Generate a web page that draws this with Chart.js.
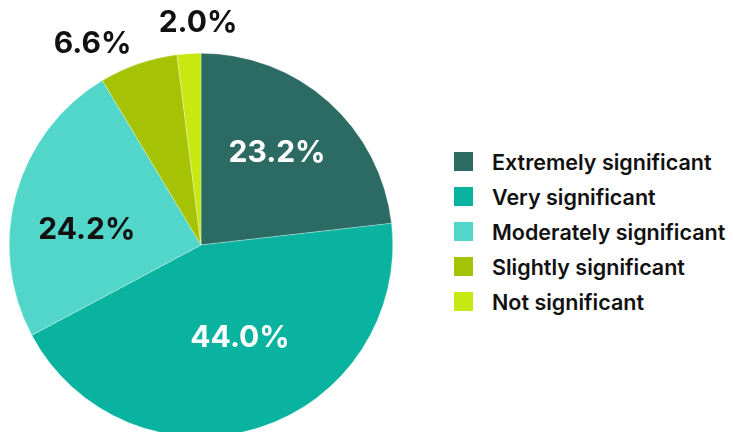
<!DOCTYPE html>
<html>
<head>
<meta charset="utf-8">
<script src="https://cdn.jsdelivr.net/npm/chart.js@4.4.1/dist/chart.umd.min.js"></script>
<style>
  html, body { margin: 0; padding: 0; background: #fff; width: 733px; height: 432px; overflow: hidden; }
  #wrap { position: absolute; left: 0; top: 0; width: 402px; height: 490px; }
  #legend { position: absolute; left: 454px; top: 152px; font-family: Inter, "Noto Sans", sans-serif; font-weight: 600; font-size: 21.5px; color: #111; }
  .item { display: flex; align-items: center; height: 19px; white-space: nowrap; }
  .sw { width: 19px; height: 19px; margin-right: 19px; flex: none; }
</style>
</head>
<body>
<div id="wrap"><canvas id="c"></canvas></div>
<div id="legend"></div>
<script>
const categories = ["Extremely significant", "Very significant", "Moderately significant", "Slightly significant", "Not significant"];
const values = [23.2, 44.0, 24.2, 6.6, 2.0];
const colors = ["#2b6b63", "#09b39f", "#53d6ca", "#a6c205", "#c8e812"];
const labelColors = ["#ffffff", "#ffffff", "#111111", "#111111", "#111111"];
// label placement: inside (fraction of radius) or outside, plus small nudges (px)
const labelInside = [true, true, true, false, false];
const labelNudge = [[2, -9], [6, -13], [-7, 15], [-36, 9], [11, -1]];

// legend
const leg = document.getElementById('legend');
categories.forEach((c, i) => {
  const d = document.createElement('div');
  d.className = 'item';
  d.style.marginTop = i === 0 ? '0px' : '16px';
  const s = document.createElement('span');
  s.className = 'sw';
  s.style.background = colors[i];
  const t = document.createElement('span');
  t.textContent = c;
  d.appendChild(s); d.appendChild(t);
  leg.appendChild(d);
});

const labelPlugin = {
  id: 'pctLabels',
  afterDatasetsDraw(chart) {
    const ctx = chart.ctx;
    const meta = chart.getDatasetMeta(0);
    ctx.save();
    ctx.font = '700 30px Inter, "Noto Sans", sans-serif';
    ctx.textAlign = 'center';
    ctx.textBaseline = 'middle';
    meta.data.forEach((arc, i) => {
      const p = arc.getProps(['x', 'y', 'startAngle', 'endAngle', 'outerRadius'], true);
      const mid = (p.startAngle + p.endAngle) / 2;
      const r = labelInside[i] ? p.outerRadius * 0.58 : p.outerRadius + 30;
      const x = p.x + Math.cos(mid) * r + labelNudge[i][0];
      const y = p.y + Math.sin(mid) * r + labelNudge[i][1];
      ctx.fillStyle = labelColors[i];
      ctx.fillText(values[i].toFixed(1) + '%', x, y);
    });
    ctx.restore();
  }
};

new Chart(document.getElementById('c'), {
  type: 'pie',
  data: {
    labels: categories,
    datasets: [{
      data: values,
      backgroundColor: colors,
      borderColor: 'rgba(255,255,255,0.6)',
      borderWidth: 0.5
    }]
  },
  options: {
    responsive: true,
    maintainAspectRatio: false,
    animation: false,
    layout: { padding: { left: 9, right: 9, top: 53, bottom: 53 } },
    plugins: { legend: { display: false }, tooltip: { enabled: false } }
  },
  plugins: [labelPlugin]
});
</script>
</body>
</html>
